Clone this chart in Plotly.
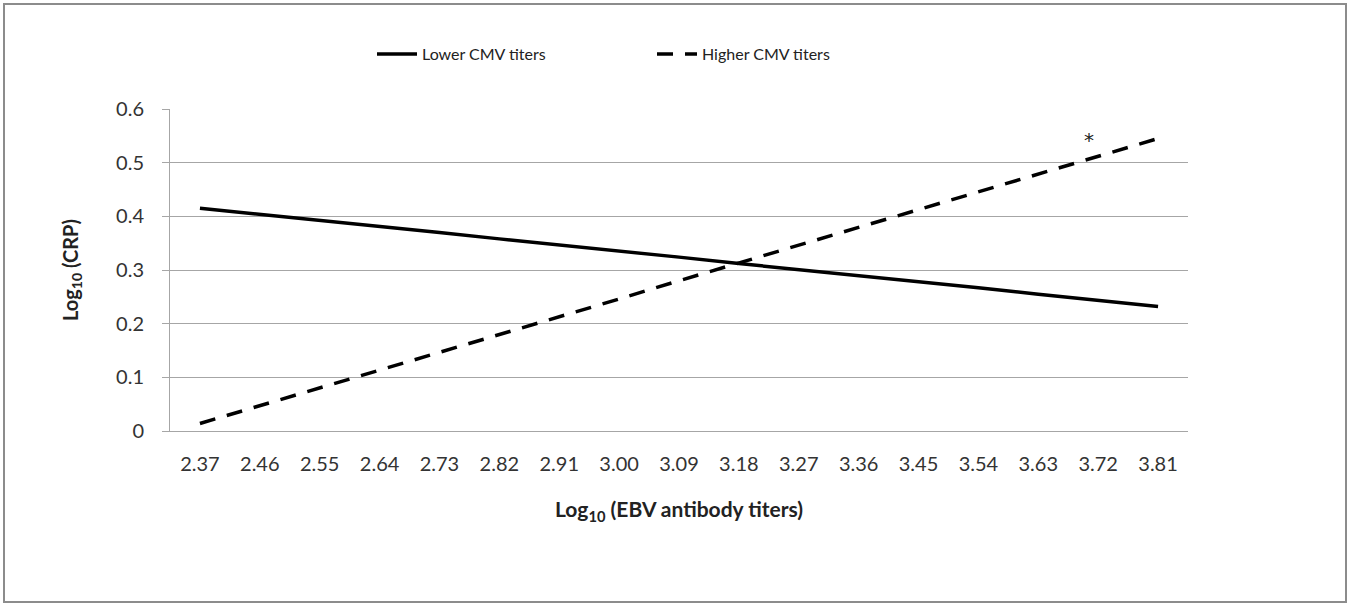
import plotly.graph_objects as go

categories = ["2.37", "2.46", "2.55", "2.64", "2.73", "2.82", "2.91", "3.00", "3.09",
              "3.18", "3.27", "3.36", "3.45", "3.54", "3.63", "3.72", "3.81"]
lower_cmv = [0.415, 0.404, 0.392, 0.381, 0.370, 0.358, 0.347, 0.335, 0.324,
             0.312, 0.301, 0.289, 0.278, 0.267, 0.255, 0.244, 0.232]
higher_cmv = [0.014, 0.047, 0.080, 0.114, 0.147, 0.180, 0.213, 0.246, 0.280,
              0.313, 0.346, 0.379, 0.412, 0.446, 0.479, 0.512, 0.545]
y_ticks = [0, 0.1, 0.2, 0.3, 0.4, 0.5, 0.6]
y_ticktext = ["0", "0.1", "0.2", "0.3", "0.4", "0.5", "0.6"]
star_index = 15

W, H = 1351, 606
L, R, T, B = 170, 1188, 109, 431
pw, ph = R - L, B - T

FONT = "Lato"
fig = go.Figure()
fig.add_trace(go.Scatter(x=categories, y=lower_cmv, mode="lines", name="Lower CMV titers",
                         line=dict(color="black", width=3.5)))
fig.add_trace(go.Scatter(x=categories, y=higher_cmv, mode="lines", name="Higher CMV titers",
                         line=dict(color="black", width=3.5, dash="16px,12px")))

fig.add_annotation(x=star_index, y=higher_cmv[star_index], text="*", showarrow=False,
                   xshift=-9, yshift=16, font=dict(family="DejaVu Sans", size=20, color="#222"))

fig.add_shape(type="rect", xref="paper", yref="paper",
              x0=(4 - L) / pw, x1=(1346 - L) / pw,
              y0=(B - 602) / ph, y1=(B - 4) / ph,
              line=dict(color="#8c8c8c", width=2), layer="below")

fig.update_layout(
    width=W, height=H,
    margin=dict(l=L, r=W - R, t=T, b=H - B),
    paper_bgcolor="white", plot_bgcolor="white",
    font=dict(family=FONT, size=20, color="#333"),
    showlegend=True,
    legend=dict(orientation="h", x=(372 - L) / pw, xanchor="left", y=(B - 54) / ph, yanchor="middle",
                font=dict(family=FONT, size=16, color="#222"),
                itemwidth=40, tracegroupgap=0, entrywidth=225),
    xaxis=dict(type="category", range=[-0.5, 16.5], showgrid=False, showline=True,
               linecolor="#a6a6a6", linewidth=1, ticks="", tickfont=dict(size=20, color="#333"),
               ticklabelstandoff=15,
               title=dict(text="<b>Log<sub>10</sub> (EBV antibody titers)</b>", standoff=28,
                          font=dict(family=FONT, size=21, color="#222"))),
    yaxis=dict(range=[0, 0.6], tickvals=y_ticks, ticktext=y_ticktext, showgrid=True,
               gridcolor="#a6a6a6", gridwidth=1, showline=True, linecolor="#a6a6a6",
               ticks="outside", ticklen=7, tickcolor="#a6a6a6", zeroline=False,
               tickfont=dict(size=20, color="#333"), ticklabelstandoff=14,
               title=dict(text="<b>Log<sub>10</sub> (CRP)</b>", standoff=32,
                          font=dict(family=FONT, size=20, color="#222"))),
)

fig.write_html("out.html", config={"displayModeBar": False},
               post_script="document.body.style.margin='0';")
